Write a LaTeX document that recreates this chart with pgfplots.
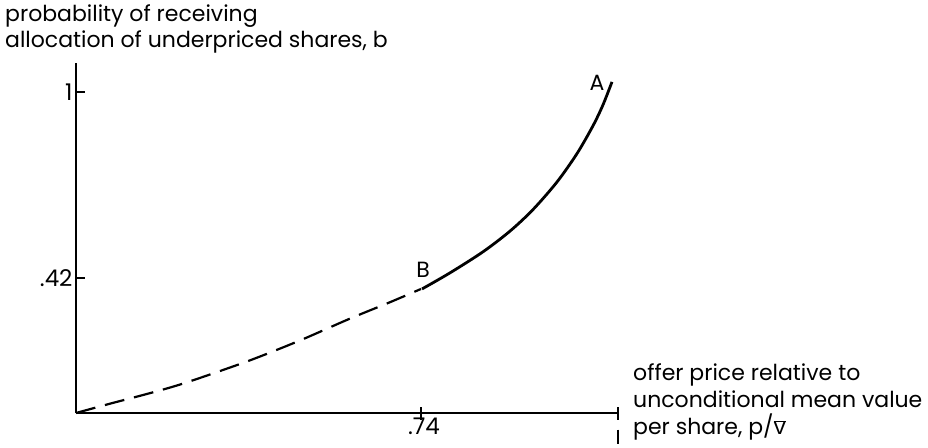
\documentclass[border=0pt]{standalone}
\usepackage{pgfplots}
\pgfplotsset{compat=1.18}
\usepackage{fontspec}
\setmainfont{Poppins}

\pgfplotstableread{
x y
0.0000 0.0000
0.0729 0.0290
0.1437 0.0560
0.2081 0.0820
0.2595 0.1060
0.3732 0.1640
0.4805 0.2260
0.5877 0.2940
0.6735 0.3450
0.7400 0.3863
}\dashedpart

\pgfplotstableread{
x y
0.7422 0.3863
0.8022 0.4364
0.8730 0.5020
0.9309 0.5664
0.9803 0.6336
1.0318 0.7196
1.0747 0.8080
1.1090 0.8946
1.1304 0.9596
1.1497 1.0312
}\solidpart

\begin{document}
\begin{tikzpicture}
\begin{axis}[
    name=ax,
    scale only axis,
    width=542pt, height=350pt,
    xmin=0, xmax=1.1626,
    ymin=0, ymax=1.09,
    axis x line=bottom, axis y line=left,
    axis line style={-, line width=1.5pt},
    xtick={0.74,1.1626}, xticklabels={.74,{}},
    ytick={0.42,1}, yticklabels={.42,1},
    xtick align=center, ytick align=inside,
    tick style={black, line width=1.5pt},
    x tick style={/pgfplots/major tick length=13pt},
    y tick style={/pgfplots/major tick length=9pt},
    font=\fontsize{22}{25}\selectfont,
    tick label style={font=\fontsize{23}{26}\selectfont},
    /pgf/number format/assume math mode=true,
    xticklabel style={yshift=1pt, xshift=3pt},
    clip=false,
]
\addplot[black, line width=2.2pt, dash pattern=on 20pt off 10pt, smooth] table[x=x, y=y] {\dashedpart};
\addplot[black, line width=2.8pt, smooth] table[x=x, y=y] {\solidpart};

\node at (axis cs:1.1176,1.028) {A};
\node at (axis cs:0.7443,0.4455) {B};
\draw[line width=1.5pt] (axis cs:1.1626,-0.052) -- (axis cs:1.1626,-0.098);

\node[anchor=north west, align=left, inner sep=0pt]
    at (axis cs:-0.1523,1.271)
    {probability of receiving\\[1pt]allocation of underpriced shares, b};
\node[anchor=west, align=left, inner sep=0pt]
    at (axis cs:1.1948,0.035)
    {offer price relative to\\[2pt]unconditional mean value\\[2pt]per share, p/$\overline{\mathrm{v}}$};
\end{axis}
\pgfresetboundingbox
\path ([shift={(-76pt,-34pt)}]ax.south west) rectangle +(928pt,447pt);
\end{tikzpicture}
\end{document}
